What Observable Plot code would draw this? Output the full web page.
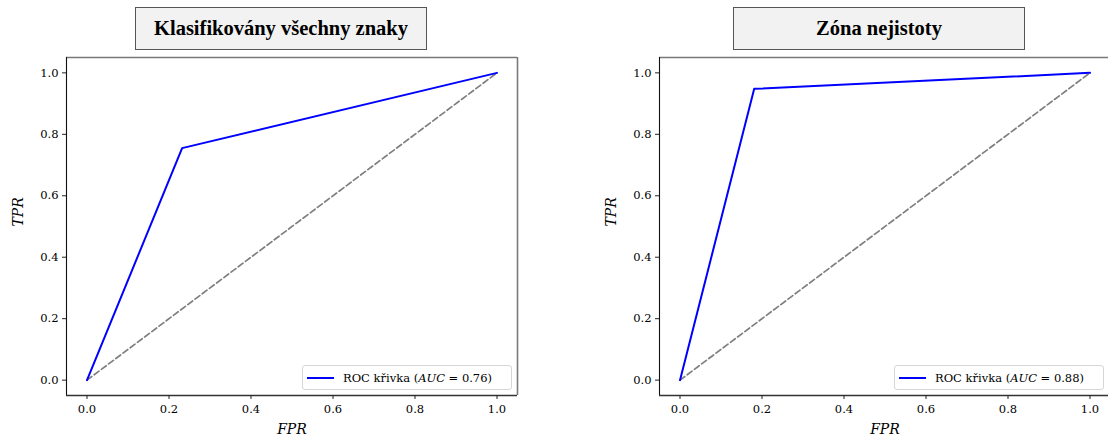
<!DOCTYPE html>
<html><head><meta charset="utf-8">
<script src="https://cdn.jsdelivr.net/npm/d3@7"></script>
<script src="https://cdn.jsdelivr.net/npm/@observablehq/plot@0.6"></script>
<style>
body{margin:0;background:#fff;}
#root{position:relative;width:1108px;height:445px;overflow:hidden;background:#fff;}
.panel{position:absolute;top:0;}
.title{position:absolute;box-sizing:border-box;background:#f2f2f2;border:1.5px solid #555;font-family:"Liberation Serif","Times New Roman",Times,serif;font-weight:bold;font-size:20.5px;display:flex;align-items:center;justify-content:center;color:#000;}
.legend{position:absolute;box-sizing:border-box;border:1px solid #d6d6d6;border-radius:3px;background:rgba(255,255,255,0.8);font-family:"DejaVu Serif",serif;font-size:11.5px;display:flex;align-items:center;color:#000;white-space:nowrap;}
.legend .sw{width:27px;height:0;border-top:2px solid #0000ff;margin:0 9px 0 4px;}
</style>
</head><body>
<div id="root"></div>
<script>
// ---- data ----
const titles = ["Klasifikovány všechny znaky", "Zóna nejistoty"];
const aucLabels = ["0.76", "0.88"];
const fprAll = [0, 0.232, 1];
const tprAll = [0, 0.755, 1];
const fprZone = [0, 0.181, 1];
const tprZone = [0, 0.948, 1];
const diagX = [0, 1];
const diagY = [0, 1];
const ticks = [0, 0.2, 0.4, 0.6, 0.8, 1.0];

const root = document.getElementById("root");

function makePanel(cfg) {
  const roc = cfg.fpr.map((f, i) => ({x: f, y: cfg.tpr[i]}));
  const diag = diagX.map((v, i) => ({x: v, y: diagY[i]}));
  const lo = -0.05, hi = 1.05;
  const plot = Plot.plot({
    width: cfg.width, height: 445,
    marginLeft: cfg.ml, marginRight: cfg.mr, marginTop: 57, marginBottom: 50,
    style: {fontFamily: "DejaVu Serif", fontSize: "11px", background: "transparent", overflow: "visible", color: "#000"},
    x: {domain: [lo, hi]},
    y: {domain: [lo, hi]},
    marks: [
      Plot.ruleY([hi], {stroke: "#7a7a7a", strokeWidth: 1.6}),
      Plot.ruleX([hi], {stroke: "#7a7a7a", strokeWidth: 1.6}),
      Plot.ruleX([lo], {stroke: "#111", strokeWidth: 1.1}),
      Plot.ruleY([lo], {stroke: "#333", strokeWidth: 1.3}),
      Plot.line(diag, {x: "x", y: "y", stroke: "#7f7f7f", strokeWidth: 1.7, strokeDasharray: "6,3"}),
      Plot.line(roc, {x: "x", y: "y", stroke: "#0000ff", strokeWidth: 2}),
      Plot.axisX({ticks, tickFormat: d => d.toFixed(1), tickSize: 4, tickPadding: 5, label: null, fontSize: 11.5, stroke: "#222"}),
      Plot.axisY({ticks, tickFormat: d => d.toFixed(1), tickSize: 4, tickPadding: 4, label: null, fontSize: 11.5, stroke: "#222"}),
      Plot.text(["FPR"], {text: d => d, frameAnchor: "bottom", dy: 38, fontStyle: "italic", fontSize: 14, fill: "#000"}),
      Plot.text(["TPR"], {text: d => d, frameAnchor: "left", dx: -48, rotate: -90, fontStyle: "italic", fontSize: 14, fill: "#000"})
    ]
  });
  const div = document.createElement("div");
  div.className = "panel";
  div.style.left = cfg.left + "px";
  div.style.width = cfg.width + "px";
  div.style.height = "445px";
  plot.style.position = "absolute";
  plot.style.left = "0px";
  plot.style.top = "0px";
  div.appendChild(plot);

  const t = document.createElement("div");
  t.className = "title";
  t.textContent = cfg.title;
  t.style.left = cfg.titleLeft + "px";
  t.style.top = "7px";
  t.style.width = "292px";
  t.style.height = "43px";
  div.appendChild(t);

  const lg = document.createElement("div");
  lg.className = "legend";
  lg.style.left = cfg.legLeft + "px";
  lg.style.top = "365px";
  lg.style.width = "210px";
  lg.style.height = "25px";
  lg.innerHTML = '<span class="sw"></span><span>ROC křivka (<i>AUC</i> = ' + cfg.auc + ')</span>';
  div.appendChild(lg);
  root.appendChild(div);
}

makePanel({fpr: fprAll, tpr: tprAll, title: titles[0], auc: aucLabels[0], left: 0, width: 554, ml: 66, mr: 37, titleLeft: 135, legLeft: 302});
makePanel({fpr: fprZone, tpr: tprZone, title: titles[1], auc: aucLabels[1], left: 554, width: 558, ml: 105, mr: 2, titleLeft: 179, legLeft: 340});
</script>
</body></html>
